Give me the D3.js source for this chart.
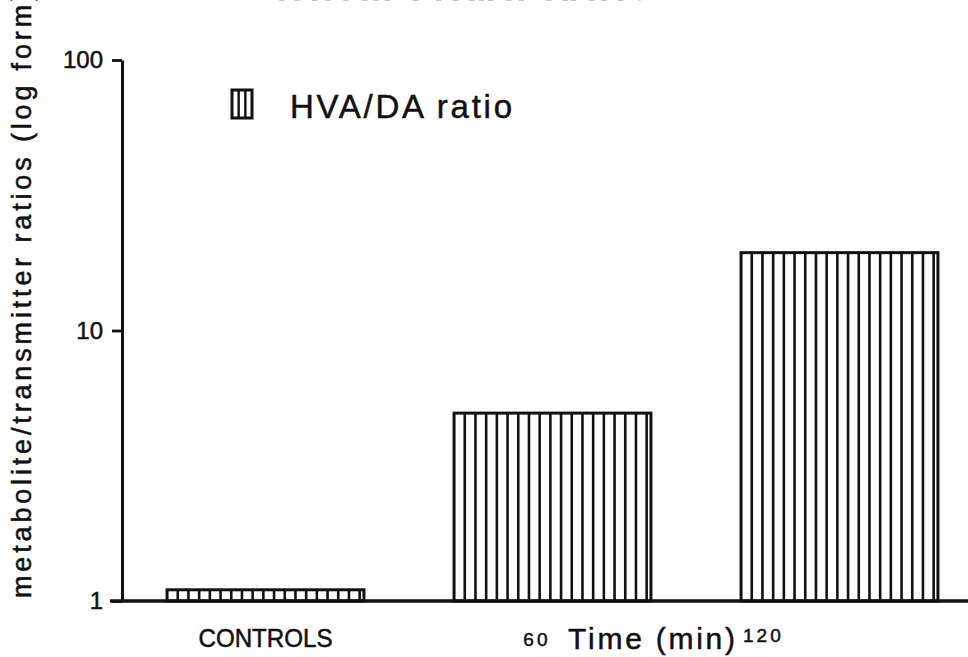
<!DOCTYPE html>
<html>
<head>
<meta charset="utf-8">
<script src="https://cdn.jsdelivr.net/npm/d3@7"></script>
<style>
  body { margin: 0; background: #fff; }
  svg { display: block; }
  text { font-family: "Liberation Sans", Arial, Helvetica, sans-serif; fill: #111; stroke: #111; stroke-width: 0.5px; }
</style>
</head>
<body>
<svg id="chart" width="968" height="657"></svg>
<script>
// data
var categories = ["CONTROLS", "60", "120"];
var ratios = [1.1, 4.95, 19.4];
var yTicks = [1, 10, 100];
var seriesName = "HVA/DA ratio";

var width = 968, height = 657;
var plotLeft = 122, plotBottom = 601, plotTop = 60;
var ink = "#111";

var svg = d3.select("#chart");

var x = d3.scaleBand()
    .domain(categories)
    .range([plotLeft, 983])
    .paddingInner(0.314)
    .paddingOuter(0.157);

var y = d3.scaleLog()
    .domain([1, 100])
    .range([plotBottom, plotTop]);

// title, cut off by the top edge of the scan
svg.append("text")
    .attr("x", 277)
    .attr("y", 0)
    .attr("textLength", 376)
    .attr("lengthAdjust", "spacing")
    .style("font-size", "34px")
    .style("font-weight", "bold")
    .text("HVA in STRIAT RATIO");

// bars
var period = 10.7;
categories.forEach(function (c, i) {
    var x0 = x(c), bw = x.bandwidth();
    var y0 = y(ratios[i]);
    var g = svg.append("g");
    g.append("rect")
        .attr("x", x0)
        .attr("y", y0)
        .attr("width", bw)
        .attr("height", y(1) - y0)
        .attr("fill", "#fff")
        .attr("stroke", ink)
        .attr("stroke-width", 3);
    g.selectAll("line")
        .data(d3.range(x0 + period, x0 + bw - 3, period))
        .enter().append("line")
        .attr("x1", d => d).attr("x2", d => d)
        .attr("y1", y0).attr("y2", y(1))
        .attr("stroke", ink)
        .attr("stroke-width", 2.6);
});

// y axis
var yAxis = d3.axisLeft(y)
    .tickValues(yTicks)
    .tickFormat(d3.format("d"))
    .tickSize(10)
    .tickSizeOuter(0)
    .tickPadding(9);

var ga = svg.append("g")
    .attr("transform", "translate(" + plotLeft + ",0)")
    .call(yAxis);
ga.select(".domain").attr("stroke", ink).attr("stroke-width", 3);
ga.selectAll(".tick line").attr("stroke", ink).attr("stroke-width", 2.8);
ga.selectAll(".tick text")
    .style("font-size", "24px")
    .attr("fill", ink)
    .attr("font-family", null);

// baseline
svg.append("line")
    .attr("x1", 110).attr("x2", width)
    .attr("y1", y(1)).attr("y2", y(1))
    .attr("stroke", ink)
    .attr("stroke-width", 3.6);

// y label
svg.append("text")
    .attr("transform", "translate(31," + (plotBottom - 3) + ") rotate(-90)")
    .attr("textLength", 606)
    .attr("lengthAdjust", "spacing")
    .style("font-size", "27px")
    .text("metabolite/transmitter  ratios  (log  form)");

// x labels
svg.append("text")
    .attr("x", x("CONTROLS") + x.bandwidth() / 2)
    .attr("y", 647)
    .attr("text-anchor", "middle")
    .attr("textLength", 134)
    .attr("lengthAdjust", "spacingAndGlyphs")
    .style("font-size", "25px")
    .text(categories[0]);

svg.append("text")
    .attr("x", x("60") + x.bandwidth() / 2 - 2)
    .attr("y", 646)
    .attr("text-anchor", "end")
    .style("font-size", "19px")
    .style("letter-spacing", "3px")
    .text(categories[1]);

svg.append("text")
    .attr("x", 568)
    .attr("y", 649)
    .attr("textLength", 167)
    .attr("lengthAdjust", "spacing")
    .style("font-size", "30px")
    .text("Time  (min)");

svg.append("text")
    .attr("x", x("120") + 2)
    .attr("y", 642)
    .style("font-size", "19px")
    .style("letter-spacing", "3px")
    .text(categories[2]);

// legend
var lg = svg.append("g").attr("transform", "translate(232,90)");
lg.append("rect")
    .attr("width", 20).attr("height", 28)
    .attr("fill", "#fff")
    .attr("stroke", ink)
    .attr("stroke-width", 3);
lg.selectAll("line.h")
    .data([20 / 3, 40 / 3])
    .enter().append("line")
    .attr("x1", d => d).attr("x2", d => d)
    .attr("y1", 0).attr("y2", 28)
    .attr("stroke", ink)
    .attr("stroke-width", 2.4);
lg.append("text")
    .attr("x", 58)
    .attr("y", 28)
    .attr("textLength", 222)
    .attr("lengthAdjust", "spacing")
    .style("font-size", "33px")
    .text(seriesName);
</script>
</body>
</html>
